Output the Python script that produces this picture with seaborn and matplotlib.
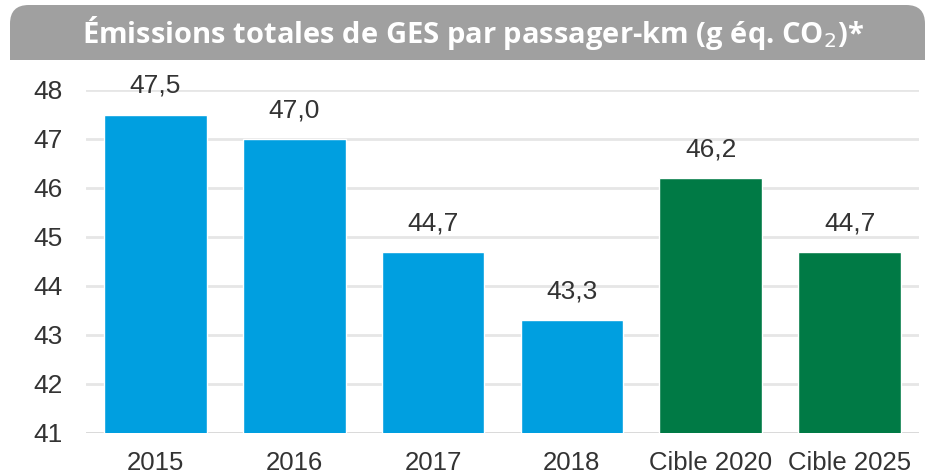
import matplotlib
matplotlib.use("Agg")
import matplotlib.pyplot as plt
from matplotlib.patches import FancyBboxPatch, Rectangle
import seaborn as sns
import pandas as pd

categories = ['2015', '2016', '2017', '2018', 'Cible 2020', 'Cible 2025']
values = [47.5, 47.0, 44.7, 43.3, 46.2, 44.7]
kinds = ['reel', 'reel', 'reel', 'reel', 'cible', 'cible']
title = 'Émissions totales de GES par passager-km (g éq. CO$_2$)*'

df = pd.DataFrame({'cat': categories, 'val': values, 'kind': kinds})

sns.set_theme(style="white")
plt.rcParams['font.family'] = ['Liberation Sans', 'DejaVu Sans']

fig = plt.figure(figsize=(9.34, 4.75), dpi=100)
ax = fig.add_axes([86 / 934, 1 - 433 / 475, (919 - 86) / 934, (433 - 90) / 475])

palette = {'reel': '#009FE0', 'cible': '#007A45'}
sns.barplot(data=df, x='cat', y='val', hue='kind', palette=palette,
            dodge=False, width=0.74, legend=False, ax=ax, saturation=1, zorder=2)

ax.set_ylim(41, 48)
ax.set_yticks(range(41, 49))
ax.yaxis.grid(True, color='#E6E6E6', linewidth=2, zorder=0)
ax.set_axisbelow(True)
for s in ax.spines.values():
    s.set_visible(False)
ax.axhline(41, color='#D9D9D9', linewidth=2, zorder=1)
ax.set_xlabel('')
ax.set_ylabel('')
ax.tick_params(axis='x', labelsize=18.5, colors='#333333', length=0, pad=13)
ax.tick_params(axis='y', labelsize=19, colors='#333333', length=0, pad=17)

for i, v in enumerate(values):
    ax.annotate(f'{v:.1f}'.replace('.', ','), (i, v), xytext=(0, 12),
                textcoords='offset points', ha='center', va='bottom',
                fontsize=19, color='#333333')

# title banner with rounded top
fig.patches.append(FancyBboxPatch((10 / 934, 1 - 60 / 475), 915 / 934, 55 / 475,
                                  boxstyle='round,pad=0,rounding_size=0.02',
                                  transform=fig.transFigure, facecolor='#A0A0A0',
                                  edgecolor='none', mutation_aspect=934 / 475))
fig.patches.append(Rectangle((10 / 934, 1 - 60 / 475), 915 / 934, 25 / 475,
                             transform=fig.transFigure, facecolor='#A0A0A0', edgecolor='none'))
fig.text(473 / 934, 1 - 33 / 475, title, ha='center', va='center', color='white',
         fontsize=21, fontweight='bold', family=['Open Sans', 'DejaVu Sans'])

fig.savefig('out.png', dpi=100)
